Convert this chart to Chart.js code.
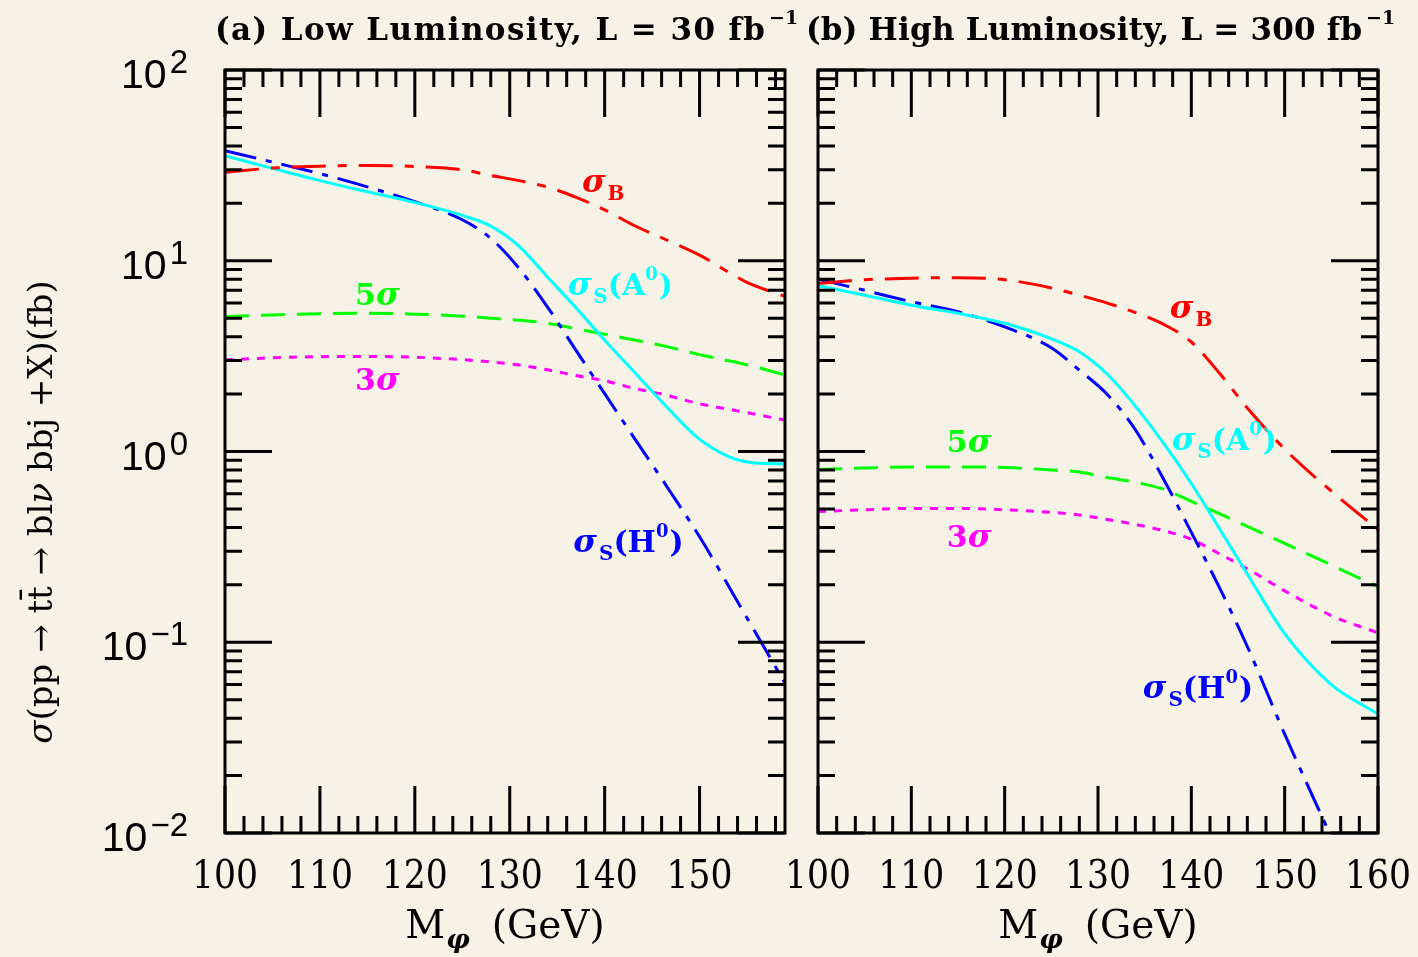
<!DOCTYPE html>
<html>
<head>
<meta charset="utf-8">
<title>ttbar -> bl nu bbj : signal vs background</title>
<script src="https://cdn.jsdelivr.net/npm/chart.js@4.4.1/dist/chart.umd.min.js"></script>
<style>
  body { margin: 0; background: #f7f2e6; }
  #wrap { position: relative; width: 1418px; height: 957px; }
  canvas { position: absolute; top: 0; }
</style>
</head>
<body>
<div id="wrap">
  <canvas id="lowChart" width="800" height="957" style="left:0"></canvas>
  <canvas id="highChart" width="658" height="957" style="left:760px"></canvas>
</div>
<script>
// cross sections in fb
const massLow   = [100, 105, 110, 115, 120, 125, 128, 131, 134, 137, 140, 143, 146, 150, 155, 159];
const bkgLow    = [29.1, 30.6, 31.3, 31.6, 31.2, 30.0, 28.0, 26.3, 24.3, 21.5, 18.5, 15.4, 13.2, 10.7, 7.7, 6.5];
const sigALow   = [35.5, 30.5, 26.3, 23.0, 20.2, 17.3, 15.2, 11.9, 8.2, 5.65, 3.83, 2.65, 1.83, 1.16, 0.88, 0.86];
const sigHLow   = [37.8, 32.9, 28.6, 24.4, 20.4, 16.4, 13.1, 9.1, 5.7, 3.38, 2.01, 1.20, 0.72, 0.357, 0.134, 0.061];
const fiveLow   = [5.09, 5.2, 5.28, 5.3, 5.25, 5.12, 5.0, 4.88, 4.7, 4.4, 4.12, 3.85, 3.6, 3.22, 2.85, 2.52];
const threeLow  = [3.02, 3.1, 3.14, 3.15, 3.12, 3.03, 2.95, 2.84, 2.68, 2.5, 2.35, 2.15, 2.0, 1.78, 1.6, 1.46];

const massHigh  = [100, 105, 110, 115, 120, 125, 128, 131, 134, 137, 140, 143, 146, 150, 155, 160];
const bkgHigh   = [7.6, 7.95, 8.1, 8.15, 7.95, 7.2, 6.6, 6.0, 5.35, 4.65, 3.75, 2.58, 1.69, 1.03, 0.62, 0.39];
const sigAHigh  = [7.4, 6.6, 5.85, 5.3, 4.7, 3.9, 3.33, 2.54, 1.73, 1.11, 0.68, 0.395, 0.228, 0.111, 0.06, 0.042];
const sigHHigh  = [8.0, 7.0, 6.1, 5.4, 4.5, 3.5, 2.67, 1.99, 1.30, 0.72, 0.377, 0.194, 0.095, 0.033, 0.0095, null];
const fiveHigh  = [0.805, 0.82, 0.83, 0.83, 0.825, 0.8, 0.78, 0.73, 0.69, 0.635, 0.548, 0.472, 0.405, 0.33, 0.254, 0.195];
const threeHigh = [0.484, 0.495, 0.503, 0.503, 0.495, 0.48, 0.465, 0.44, 0.415, 0.385, 0.347, 0.291, 0.243, 0.186, 0.138, 0.112];

const xTickLabels = [100, 110, 120, 130, 140, 150, 160];
const yExponents  = [-2, -1, 0, 1, 2];

const RED = '#ff0000', BLUE = '#0000ff', CYAN = '#00ffff', GREEN = '#00ff00', MAGENTA = '#ff00ff';

const SIG = 'italic bold 32px "DejaVu Serif"';
const SUB = 'bold 20px "DejaVu Serif"';
const TXT = 'bold 30px "DejaVu Serif"';
const SUP = 'bold 18px "DejaVu Serif"';

const sigB = [{ t: 'σ', f: SIG }, { t: 'B', f: SUB, dy: 8, dx: 2 }];
const sigS = (p) => [{ t: 'σ', f: SIG }, { t: 'S', f: SUB, dy: 8, dx: 2 }, { t: '(' + p, f: TXT },
                     { t: '0', f: SUP, dy: -15, dx: 0 }, { t: ')', f: TXT, dx: 1 }];
const nSig = (n) => [{ t: n, f: TXT }, { t: 'σ', f: SIG }];

function series(mass, vals, color, dash) {
  return {
    data: mass.map((m, i) => ({ x: m, y: vals[i] })),
    borderColor: color,
    borderWidth: 3,
    borderDash: dash,
    pointRadius: 0,
    fill: false,
    cubicInterpolationMode: 'monotone'
  };
}

function drawRuns(ctx, parts, x, y) {
  let cx = x;
  for (const p of parts) {
    ctx.font = p.f;
    cx += p.dx || 0;
    ctx.fillText(p.t, cx, y + (p.dy || 0));
    cx += ctx.measureText(p.t).width;
  }
  return cx - x;
}

function runsWidth(ctx, parts) {
  let w = 0;
  for (const p of parts) {
    ctx.font = p.f;
    w += (p.dx || 0) + ctx.measureText(p.t).width;
  }
  return w;
}

const paperAxes = {
  id: 'paperAxes',
  afterDatasetsDraw(chart, args, o) {
    const { ctx, chartArea: a } = chart;
    const xs = chart.scales.x, ys = chart.scales.y;
    ctx.save();

    // ticks on all four sides, pointing inwards
    ctx.strokeStyle = '#000';
    ctx.lineWidth = 3;
    ctx.beginPath();
    for (let m = xs.min; m <= xs.max + 0.001; m += 2) {
      const px = xs.getPixelForValue(m);
      const len = m % 10 === 0 ? 47 : 17;
      ctx.moveTo(px, a.bottom); ctx.lineTo(px, a.bottom - len);
      ctx.moveTo(px, a.top); ctx.lineTo(px, a.top + len);
    }
    for (const e of yExponents) {
      for (let k = 1; k <= 9; k++) {
        const v = k * Math.pow(10, e);
        if (v > ys.max * 1.0001) break;
        const py = ys.getPixelForValue(v);
        const len = k === 1 ? 47 : 17;
        ctx.moveTo(a.left, py); ctx.lineTo(a.left + len, py);
        ctx.moveTo(a.right, py); ctx.lineTo(a.right - len, py);
      }
    }
    ctx.stroke();
    ctx.strokeRect(a.left, a.top, a.right - a.left, a.bottom - a.top);

    ctx.fillStyle = '#000';
    ctx.textBaseline = 'alphabetic';

    // x tick labels
    ctx.textAlign = 'center';
    ctx.font = '40px "DejaVu Serif"';
    xTickLabels.filter(v => v <= xs.max).forEach(v => {
      ctx.fillText(String(v), xs.getPixelForValue(v), 888, 66);
    });

    // x title  M_phi (GeV)
    ctx.textAlign = 'left';
    const xt = [{ t: 'M', f: '39px "DejaVu Serif"' }, { t: 'φ', f: 'italic bold 26px "DejaVu Serif"', dy: 10, dx: 1 },
                { t: '(GeV)', f: '39px "DejaVu Serif"', dx: 22 }];
    const xtw = runsWidth(ctx, xt);
    drawRuns(ctx, xt, (a.left + a.right) / 2 - xtw / 2, 938);

    // y tick labels (left panel only)
    if (o.yLabels) {
      ctx.textAlign = 'right';
      yExponents.forEach(e => {
        const py = ys.getPixelForValue(Math.pow(10, e));
        ctx.font = '33px "Liberation Sans"';
        const ex = e < 0 ? '\u2212' + (-e) : String(e);
        const ew = ctx.measureText(ex).width;
        ctx.fillText(ex, 188, py + 3);
        ctx.font = '41px "Liberation Sans"';
        ctx.fillText('10', 188 - ew - 3, py + 18);
      });

      // rotated y title
      ctx.save();
      ctx.translate(52, 512);
      ctx.rotate(-Math.PI / 2);
      ctx.textAlign = 'left';
      const yt = [{ t: 'σ', f: 'italic 34px "DejaVu Serif"' }, { t: '(pp \u2192 tt\u0304 \u2192 bl', f: '34px "DejaVu Serif"' },
                  { t: 'ν', f: 'italic 34px "DejaVu Serif"' }, { t: ' bbj +X)(fb)', f: '34px "DejaVu Serif"' }];
      const ytw = runsWidth(ctx, yt);
      drawRuns(ctx, yt, -ytw / 2, 0);
      ctx.restore();
    }

    // panel title with superscript
    ctx.textAlign = 'left';
    ctx.font = 'bold 31px "DejaVu Serif"';
    const tw = ctx.measureText(o.title).width;
    if (tw < o.titleW && 'letterSpacing' in ctx) {
      ctx.letterSpacing = ((o.titleW - tw) / (o.title.length - 1)).toFixed(2) + 'px';
      ctx.fillText(o.title, o.titleX, 40);
      ctx.letterSpacing = '0px';
    } else {
      ctx.fillText(o.title, o.titleX, 40, o.titleW);
    }
    ctx.font = 'bold 19px "DejaVu Serif"';
    ctx.fillText('\u22121', o.titleX + o.titleW + 4, 24);

    // curve labels placed in data coordinates
    o.notes.forEach(n => {
      ctx.fillStyle = n.color;
      drawRuns(ctx, n.parts, xs.getPixelForValue(n.m), ys.getPixelForValue(n.v));
    });

    ctx.restore();
  }
};

function makeChart(id, mass, sets, xMax, pad, plug) {
  new Chart(document.getElementById(id), {
    type: 'line',
    data: {
      datasets: [
        series(mass, sets[0], RED, [34, 12, 9, 12]),
        series(mass, sets[1], CYAN, []),
        series(mass, sets[2], BLUE, [32, 10, 6, 10]),
        series(mass, sets[3], GREEN, [24, 12]),
        series(mass, sets[4], MAGENTA, [8, 8])
      ]
    },
    options: {
      responsive: false,
      animation: false,
      layout: { padding: pad },
      plugins: { legend: { display: false }, tooltip: { enabled: false }, paperAxes: plug },
      scales: {
        x: { type: 'linear', min: 100, max: xMax, display: false },
        y: { type: 'logarithmic', min: 0.01, max: 100, display: false }
      }
    },
    plugins: [paperAxes]
  });
}

makeChart('lowChart', massLow, [bkgLow, sigALow, sigHLow, fiveLow, threeLow], 159,
  { left: 225, right: 15, top: 70, bottom: 124 },
  {
    yLabels: true,
    title: '(a) Low Luminosity, L = 30 fb', titleX: 215, titleW: 550,
    notes: [
      { m: 137.6, v: 22.9, color: RED, parts: sigB },
      { m: 136.1, v: 6.61, color: CYAN, parts: sigS('A') },
      { m: 113.7, v: 5.86, color: GREEN, parts: nSig('5') },
      { m: 113.7, v: 2.10, color: MAGENTA, parts: nSig('3') },
      { m: 136.7, v: 0.297, color: BLUE, parts: sigS('H') }
    ]
  });

makeChart('highChart', massHigh, [bkgHigh, sigAHigh, sigHHigh, fiveHigh, threeHigh], 160,
  { left: 58, right: 40, top: 70, bottom: 124 },
  {
    yLabels: false,
    title: '(b) High Luminosity, L = 300 fb', titleX: 46, titleW: 556,
    notes: [
      { m: 137.7, v: 5.01, color: RED, parts: sigB },
      { m: 137.9, v: 1.02, color: CYAN, parts: sigS('A') },
      { m: 113.8, v: 0.994, color: GREEN, parts: nSig('5') },
      { m: 113.8, v: 0.316, color: MAGENTA, parts: nSig('3') },
      { m: 134.8, v: 0.051, color: BLUE, parts: sigS('H') }
    ]
  });
</script>
</body>
</html>
